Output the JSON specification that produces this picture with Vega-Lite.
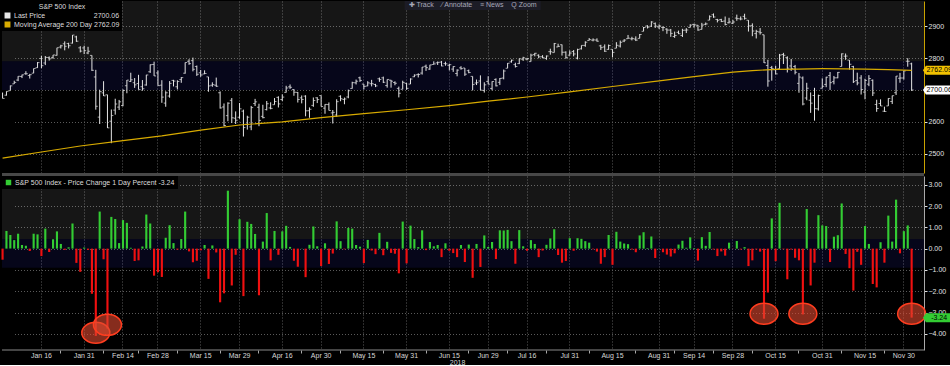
{
"$schema": "https://vega.github.io/schema/vega-lite/v6.json",
"background": "#000000",
"padding": 0,
"spacing": 3,
"bounds": "flush",
"config": {"view": {"stroke": null}, "font": "Liberation Sans", "axis": {"labelOverlap": false}},
"resolve": {"scale": {"x": "shared", "y": "independent", "color": "independent"}, "legend": {"color": "independent"}},
"datasets": {
"px": [
{"d":"2017-12-29","o":2689.2,"h":2692.1,"l":2673.6,"c":2673.6,"p":-0.52},
{"d":"2018-01-02","o":2683.7,"h":2695.9,"l":2682.4,"c":2695.8,"p":0.83},
{"d":"2018-01-03","o":2697.9,"h":2714.4,"l":2697.8,"c":2713.1,"p":0.64},
{"d":"2018-01-04","o":2719.3,"h":2729.3,"l":2719.1,"c":2724.0,"p":0.40},
{"d":"2018-01-05","o":2731.3,"h":2743.5,"l":2727.9,"c":2743.2,"p":0.70},
{"d":"2018-01-08","o":2742.7,"h":2748.5,"l":2737.6,"c":2747.7,"p":0.17},
{"d":"2018-01-09","o":2751.2,"h":2759.1,"l":2747.9,"c":2751.3,"p":0.13},
{"d":"2018-01-10","o":2745.6,"h":2750.8,"l":2736.1,"c":2748.2,"p":-0.11},
{"d":"2018-01-11","o":2753.0,"h":2767.6,"l":2752.8,"c":2767.6,"p":0.70},
{"d":"2018-01-12","o":2770.2,"h":2787.9,"l":2769.6,"c":2786.2,"p":0.67},
{"d":"2018-01-16","o":2799.0,"h":2807.5,"l":2768.6,"c":2776.4,"p":-0.35},
{"d":"2018-01-17","o":2785.0,"h":2807.0,"l":2778.4,"c":2802.6,"p":0.94},
{"d":"2018-01-18","o":2802.4,"h":2805.8,"l":2792.6,"c":2798.0,"p":-0.16},
{"d":"2018-01-19","o":2802.6,"h":2810.3,"l":2798.1,"c":2810.3,"p":0.44},
{"d":"2018-01-22","o":2809.2,"h":2833.0,"l":2808.1,"c":2833.0,"p":0.81},
{"d":"2018-01-23","o":2835.1,"h":2842.2,"l":2830.6,"c":2839.1,"p":0.22},
{"d":"2018-01-24","o":2845.4,"h":2853.0,"l":2824.8,"c":2837.5,"p":-0.06},
{"d":"2018-01-25","o":2846.2,"h":2848.6,"l":2830.9,"c":2839.3,"p":0.06},
{"d":"2018-01-26","o":2847.5,"h":2872.9,"l":2846.2,"c":2872.9,"p":1.18},
{"d":"2018-01-29","o":2867.2,"h":2870.6,"l":2851.5,"c":2853.5,"p":-0.67},
{"d":"2018-01-30","o":2832.7,"h":2837.8,"l":2818.3,"c":2822.4,"p":-1.09},
{"d":"2018-01-31","o":2832.4,"h":2839.3,"l":2813.0,"c":2823.8,"p":0.05},
{"d":"2018-02-01","o":2816.5,"h":2836.0,"l":2812.7,"c":2822.0,"p":-0.06},
{"d":"2018-02-02","o":2808.9,"h":2808.9,"l":2760.0,"c":2762.1,"p":-2.12},
{"d":"2018-02-05","o":2741.1,"h":2763.4,"l":2638.2,"c":2648.9,"p":-4.10},
{"d":"2018-02-06","o":2614.8,"h":2701.0,"l":2593.1,"c":2695.1,"p":1.74},
{"d":"2018-02-07","o":2691.0,"h":2727.7,"l":2681.3,"c":2681.7,"p":-0.50},
{"d":"2018-02-08","o":2685.0,"h":2685.3,"l":2580.6,"c":2581.0,"p":-3.75},
{"d":"2018-02-09","o":2601.8,"h":2638.7,"l":2532.7,"c":2619.6,"p":1.49},
{"d":"2018-02-12","o":2636.8,"h":2672.6,"l":2622.5,"c":2656.0,"p":1.39},
{"d":"2018-02-13","o":2646.3,"h":2668.8,"l":2637.1,"c":2662.9,"p":0.26},
{"d":"2018-02-14","o":2651.2,"h":2702.1,"l":2648.9,"c":2698.6,"p":1.34},
{"d":"2018-02-15","o":2713.5,"h":2731.5,"l":2689.8,"c":2731.2,"p":1.21},
{"d":"2018-02-16","o":2727.1,"h":2754.4,"l":2725.1,"c":2732.2,"p":0.04},
{"d":"2018-02-20","o":2723.0,"h":2737.6,"l":2706.8,"c":2716.3,"p":-0.58},
{"d":"2018-02-21","o":2720.5,"h":2747.8,"l":2701.3,"c":2701.3,"p":-0.55},
{"d":"2018-02-22","o":2710.4,"h":2731.3,"l":2697.8,"c":2704.0,"p":0.10},
{"d":"2018-02-23","o":2715.8,"h":2747.8,"l":2713.7,"c":2747.3,"p":1.60},
{"d":"2018-02-26","o":2757.4,"h":2780.6,"l":2753.8,"c":2779.6,"p":1.18},
{"d":"2018-02-27","o":2780.5,"h":2789.2,"l":2744.2,"c":2744.3,"p":-1.27},
{"d":"2018-02-28","o":2753.8,"h":2761.5,"l":2713.5,"c":2713.8,"p":-1.11},
{"d":"2018-03-01","o":2715.2,"h":2730.9,"l":2659.7,"c":2677.7,"p":-1.33},
{"d":"2018-03-02","o":2658.9,"h":2696.3,"l":2647.3,"c":2691.3,"p":0.51},
{"d":"2018-03-05","o":2681.1,"h":2728.1,"l":2675.8,"c":2720.9,"p":1.10},
{"d":"2018-03-06","o":2730.2,"h":2732.1,"l":2711.3,"c":2728.1,"p":0.26},
{"d":"2018-03-07","o":2710.2,"h":2730.6,"l":2701.7,"c":2726.8,"p":-0.05},
{"d":"2018-03-08","o":2732.8,"h":2740.5,"l":2722.7,"c":2739.0,"p":0.45},
{"d":"2018-03-09","o":2752.9,"h":2786.6,"l":2751.5,"c":2786.6,"p":1.74},
{"d":"2018-03-12","o":2790.5,"h":2797.0,"l":2779.3,"c":2783.0,"p":-0.13},
{"d":"2018-03-13","o":2792.3,"h":2801.9,"l":2758.7,"c":2765.3,"p":-0.64},
{"d":"2018-03-14","o":2774.1,"h":2777.1,"l":2744.4,"c":2749.5,"p":-0.57},
{"d":"2018-03-15","o":2754.3,"h":2763.0,"l":2741.5,"c":2747.3,"p":-0.08},
{"d":"2018-03-16","o":2750.6,"h":2761.9,"l":2750.0,"c":2752.0,"p":0.17},
{"d":"2018-03-19","o":2741.4,"h":2741.4,"l":2694.6,"c":2712.9,"p":-1.42},
{"d":"2018-03-20","o":2715.1,"h":2724.2,"l":2710.1,"c":2716.9,"p":0.15},
{"d":"2018-03-21","o":2715.0,"h":2739.1,"l":2709.8,"c":2711.9,"p":-0.18},
{"d":"2018-03-22","o":2691.4,"h":2695.7,"l":2641.6,"c":2643.7,"p":-2.52},
{"d":"2018-03-23","o":2646.7,"h":2657.7,"l":2585.9,"c":2588.3,"p":-2.10},
{"d":"2018-03-26","o":2619.4,"h":2661.4,"l":2601.8,"c":2658.6,"p":2.72},
{"d":"2018-03-27","o":2667.6,"h":2674.8,"l":2596.1,"c":2612.6,"p":-1.73},
{"d":"2018-03-28","o":2611.3,"h":2632.7,"l":2593.1,"c":2605.0,"p":-0.29},
{"d":"2018-03-29","o":2614.4,"h":2659.1,"l":2609.7,"c":2640.9,"p":1.38},
{"d":"2018-04-02","o":2633.5,"h":2638.3,"l":2553.8,"c":2581.9,"p":-2.23},
{"d":"2018-04-03","o":2592.2,"h":2619.1,"l":2575.5,"c":2614.5,"p":1.26},
{"d":"2018-04-04","o":2584.0,"h":2649.9,"l":2573.6,"c":2644.7,"p":1.16},
{"d":"2018-04-05","o":2657.4,"h":2672.1,"l":2649.6,"c":2662.8,"p":0.69},
{"d":"2018-04-06","o":2645.8,"h":2656.9,"l":2586.3,"c":2604.5,"p":-2.19},
{"d":"2018-04-09","o":2617.2,"h":2653.6,"l":2610.8,"c":2613.2,"p":0.33},
{"d":"2018-04-10","o":2638.4,"h":2665.5,"l":2635.8,"c":2656.9,"p":1.67},
{"d":"2018-04-11","o":2643.6,"h":2661.4,"l":2639.3,"c":2642.2,"p":-0.55},
{"d":"2018-04-12","o":2653.8,"h":2674.7,"l":2653.8,"c":2664.0,"p":0.83},
{"d":"2018-04-13","o":2676.9,"h":2680.3,"l":2645.1,"c":2656.3,"p":-0.29},
{"d":"2018-04-16","o":2670.1,"h":2686.5,"l":2665.2,"c":2677.8,"p":0.81},
{"d":"2018-04-17","o":2692.7,"h":2713.3,"l":2692.1,"c":2706.4,"p":1.07},
{"d":"2018-04-18","o":2710.1,"h":2717.5,"l":2703.6,"c":2708.6,"p":0.08},
{"d":"2018-04-19","o":2701.2,"h":2702.8,"l":2681.9,"c":2693.1,"p":-0.57},
{"d":"2018-04-20","o":2692.6,"h":2693.9,"l":2660.6,"c":2670.1,"p":-0.85},
{"d":"2018-04-23","o":2675.4,"h":2682.9,"l":2658.0,"c":2670.3,"p":0.01},
{"d":"2018-04-24","o":2680.8,"h":2683.6,"l":2617.3,"c":2634.6,"p":-1.34},
{"d":"2018-04-25","o":2634.9,"h":2645.3,"l":2612.7,"c":2639.4,"p":0.18},
{"d":"2018-04-26","o":2651.7,"h":2676.5,"l":2647.2,"c":2666.9,"p":1.04},
{"d":"2018-04-27","o":2675.5,"h":2677.4,"l":2659.0,"c":2669.9,"p":0.11},
{"d":"2018-04-30","o":2682.5,"h":2682.9,"l":2648.0,"c":2648.1,"p":-0.82},
{"d":"2018-05-01","o":2643.0,"h":2655.3,"l":2625.4,"c":2654.8,"p":0.25},
{"d":"2018-05-02","o":2654.2,"h":2660.9,"l":2635.7,"c":2635.7,"p":-0.72},
{"d":"2018-05-03","o":2628.1,"h":2637.1,"l":2594.6,"c":2629.7,"p":-0.23},
{"d":"2018-05-04","o":2621.5,"h":2670.9,"l":2615.3,"c":2663.4,"p":1.28},
{"d":"2018-05-07","o":2680.3,"h":2683.4,"l":2664.7,"c":2672.6,"p":0.35},
{"d":"2018-05-08","o":2670.3,"h":2676.3,"l":2655.2,"c":2671.9,"p":-0.03},
{"d":"2018-05-09","o":2678.1,"h":2701.3,"l":2674.1,"c":2697.8,"p":0.97},
{"d":"2018-05-10","o":2705.0,"h":2726.1,"l":2704.5,"c":2723.1,"p":0.94},
{"d":"2018-05-11","o":2722.7,"h":2732.9,"l":2717.5,"c":2727.7,"p":0.17},
{"d":"2018-05-14","o":2738.5,"h":2742.1,"l":2725.5,"c":2730.1,"p":0.09},
{"d":"2018-05-15","o":2718.6,"h":2718.6,"l":2701.9,"c":2711.5,"p":-0.68},
{"d":"2018-05-16","o":2712.6,"h":2727.8,"l":2712.2,"c":2722.5,"p":0.41},
{"d":"2018-05-17","o":2719.7,"h":2732.0,"l":2711.4,"c":2720.1,"p":-0.09},
{"d":"2018-05-18","o":2717.4,"h":2719.5,"l":2709.2,"c":2713.0,"p":-0.26},
{"d":"2018-05-21","o":2735.4,"h":2739.2,"l":2725.7,"c":2733.0,"p":0.74},
{"d":"2018-05-22","o":2738.3,"h":2742.2,"l":2721.9,"c":2724.4,"p":-0.31},
{"d":"2018-05-23","o":2714.0,"h":2733.3,"l":2707.4,"c":2733.3,"p":0.32},
{"d":"2018-05-24","o":2730.9,"h":2732.0,"l":2707.4,"c":2727.8,"p":-0.20},
{"d":"2018-05-25","o":2723.6,"h":2727.4,"l":2715.0,"c":2721.3,"p":-0.24},
{"d":"2018-05-29","o":2705.1,"h":2710.7,"l":2676.8,"c":2689.9,"p":-1.16},
{"d":"2018-05-30","o":2702.4,"h":2729.3,"l":2702.4,"c":2724.0,"p":1.27},
{"d":"2018-05-31","o":2721.0,"h":2722.5,"l":2700.7,"c":2705.3,"p":-0.69},
{"d":"2018-06-01","o":2718.7,"h":2736.9,"l":2718.7,"c":2734.6,"p":1.08},
{"d":"2018-06-04","o":2741.7,"h":2749.2,"l":2740.5,"c":2746.9,"p":0.45},
{"d":"2018-06-05","o":2748.5,"h":2752.6,"l":2739.5,"c":2748.8,"p":0.07},
{"d":"2018-06-06","o":2753.3,"h":2772.4,"l":2748.5,"c":2772.4,"p":0.86},
{"d":"2018-06-07","o":2774.8,"h":2779.9,"l":2760.2,"c":2770.4,"p":-0.07},
{"d":"2018-06-08","o":2765.8,"h":2779.4,"l":2763.6,"c":2779.0,"p":0.31},
{"d":"2018-06-11","o":2780.2,"h":2790.2,"l":2780.2,"c":2782.0,"p":0.11},
{"d":"2018-06-12","o":2785.6,"h":2789.8,"l":2778.8,"c":2786.9,"p":0.17},
{"d":"2018-06-13","o":2787.9,"h":2791.5,"l":2774.7,"c":2775.6,"p":-0.40},
{"d":"2018-06-14","o":2783.2,"h":2789.1,"l":2776.5,"c":2782.5,"p":0.25},
{"d":"2018-06-15","o":2777.8,"h":2782.8,"l":2761.7,"c":2779.7,"p":-0.10},
{"d":"2018-06-18","o":2765.8,"h":2775.0,"l":2757.1,"c":2773.8,"p":-0.21},
{"d":"2018-06-19","o":2752.0,"h":2765.1,"l":2743.2,"c":2762.6,"p":-0.40},
{"d":"2018-06-20","o":2769.7,"h":2774.9,"l":2763.9,"c":2767.3,"p":0.17},
{"d":"2018-06-21","o":2769.3,"h":2769.3,"l":2744.4,"c":2749.8,"p":-0.63},
{"d":"2018-06-22","o":2760.8,"h":2764.2,"l":2752.7,"c":2754.9,"p":0.19},
{"d":"2018-06-25","o":2742.9,"h":2742.9,"l":2698.7,"c":2717.1,"p":-1.37},
{"d":"2018-06-26","o":2722.1,"h":2732.9,"l":2715.6,"c":2723.1,"p":0.22},
{"d":"2018-06-27","o":2728.5,"h":2746.1,"l":2699.4,"c":2699.6,"p":-0.86},
{"d":"2018-06-28","o":2698.7,"h":2724.3,"l":2692.0,"c":2716.3,"p":0.62},
{"d":"2018-06-29","o":2727.1,"h":2743.3,"l":2718.0,"c":2718.4,"p":0.08},
{"d":"2018-07-02","o":2705.0,"h":2727.3,"l":2699.0,"c":2726.7,"p":0.31},
{"d":"2018-07-03","o":2733.3,"h":2736.6,"l":2711.2,"c":2713.2,"p":-0.49},
{"d":"2018-07-05","o":2724.2,"h":2737.8,"l":2716.0,"c":2736.6,"p":0.86},
{"d":"2018-07-06","o":2737.7,"h":2764.4,"l":2733.5,"c":2759.8,"p":0.85},
{"d":"2018-07-09","o":2768.5,"h":2784.7,"l":2768.5,"c":2784.2,"p":0.88},
{"d":"2018-07-10","o":2788.6,"h":2795.6,"l":2786.2,"c":2793.8,"p":0.35},
{"d":"2018-07-11","o":2779.8,"h":2785.9,"l":2770.8,"c":2774.0,"p":-0.71},
{"d":"2018-07-12","o":2783.1,"h":2799.2,"l":2781.5,"c":2798.3,"p":0.87},
{"d":"2018-07-13","o":2796.9,"h":2804.5,"l":2791.7,"c":2801.3,"p":0.11},
{"d":"2018-07-16","o":2797.4,"h":2801.2,"l":2793.4,"c":2798.4,"p":-0.10},
{"d":"2018-07-17","o":2789.3,"h":2814.2,"l":2789.2,"c":2809.6,"p":0.40},
{"d":"2018-07-18","o":2811.4,"h":2816.8,"l":2805.9,"c":2815.6,"p":0.22},
{"d":"2018-07-19","o":2809.4,"h":2812.1,"l":2799.8,"c":2804.5,"p":-0.40},
{"d":"2018-07-20","o":2804.6,"h":2809.7,"l":2800.0,"c":2801.8,"p":-0.09},
{"d":"2018-07-23","o":2799.2,"h":2808.6,"l":2795.1,"c":2807.0,"p":0.18},
{"d":"2018-07-24","o":2820.7,"h":2830.0,"l":2811.1,"c":2820.4,"p":0.48},
{"d":"2018-07-25","o":2817.7,"h":2848.0,"l":2817.7,"c":2846.1,"p":0.91},
{"d":"2018-07-26","o":2835.5,"h":2845.6,"l":2835.3,"c":2837.4,"p":-0.30},
{"d":"2018-07-27","o":2842.4,"h":2843.2,"l":2808.3,"c":2818.8,"p":-0.66},
{"d":"2018-07-30","o":2819.0,"h":2821.7,"l":2798.1,"c":2802.6,"p":-0.58},
{"d":"2018-07-31","o":2809.7,"h":2824.5,"l":2808.1,"c":2816.3,"p":0.49},
{"d":"2018-08-01","o":2821.2,"h":2825.8,"l":2805.9,"c":2813.4,"p":-0.10},
{"d":"2018-08-02","o":2800.5,"h":2829.9,"l":2796.3,"c":2827.2,"p":0.49},
{"d":"2018-08-03","o":2829.6,"h":2840.4,"l":2827.4,"c":2840.4,"p":0.46},
{"d":"2018-08-06","o":2840.3,"h":2853.3,"l":2836.0,"c":2850.4,"p":0.35},
{"d":"2018-08-07","o":2855.9,"h":2863.4,"l":2855.9,"c":2858.5,"p":0.28},
{"d":"2018-08-08","o":2856.8,"h":2862.4,"l":2853.1,"c":2857.7,"p":-0.03},
{"d":"2018-08-09","o":2857.2,"h":2862.5,"l":2852.0,"c":2853.6,"p":-0.14},
{"d":"2018-08-10","o":2838.9,"h":2842.2,"l":2825.8,"c":2833.3,"p":-0.71},
{"d":"2018-08-13","o":2835.5,"h":2843.4,"l":2819.9,"c":2821.9,"p":-0.40},
{"d":"2018-08-14","o":2827.9,"h":2843.1,"l":2826.6,"c":2840.0,"p":0.64},
{"d":"2018-08-15","o":2828.0,"h":2828.0,"l":2802.5,"c":2818.4,"p":-0.76},
{"d":"2018-08-16","o":2831.4,"h":2850.5,"l":2831.4,"c":2840.7,"p":0.79},
{"d":"2018-08-17","o":2838.3,"h":2855.6,"l":2833.7,"c":2850.1,"p":0.33},
{"d":"2018-08-20","o":2853.9,"h":2859.8,"l":2850.6,"c":2857.1,"p":0.24},
{"d":"2018-08-21","o":2861.5,"h":2873.2,"l":2861.3,"c":2863.0,"p":0.21},
{"d":"2018-08-22","o":2861.0,"h":2867.5,"l":2856.1,"c":2861.8,"p":-0.04},
{"d":"2018-08-23","o":2860.3,"h":2868.8,"l":2854.0,"c":2857.0,"p":-0.17},
{"d":"2018-08-24","o":2862.4,"h":2876.2,"l":2862.4,"c":2874.7,"p":0.62},
{"d":"2018-08-27","o":2884.7,"h":2898.3,"l":2884.7,"c":2896.7,"p":0.77},
{"d":"2018-08-28","o":2901.5,"h":2903.8,"l":2893.5,"c":2897.5,"p":0.03},
{"d":"2018-08-29","o":2900.6,"h":2916.5,"l":2898.4,"c":2914.0,"p":0.57},
{"d":"2018-08-30","o":2908.9,"h":2912.5,"l":2895.2,"c":2901.1,"p":-0.44},
{"d":"2018-08-31","o":2898.4,"h":2906.3,"l":2891.7,"c":2901.5,"p":0.01},
{"d":"2018-09-04","o":2897.0,"h":2900.2,"l":2885.1,"c":2896.7,"p":-0.17},
{"d":"2018-09-05","o":2891.6,"h":2894.2,"l":2876.9,"c":2888.6,"p":-0.28},
{"d":"2018-09-06","o":2888.6,"h":2892.1,"l":2867.3,"c":2878.1,"p":-0.37},
{"d":"2018-09-07","o":2868.3,"h":2883.8,"l":2864.1,"c":2871.7,"p":-0.22},
{"d":"2018-09-10","o":2881.4,"h":2886.9,"l":2875.9,"c":2877.1,"p":0.19},
{"d":"2018-09-11","o":2871.6,"h":2892.5,"l":2866.8,"c":2887.9,"p":0.37},
{"d":"2018-09-12","o":2888.3,"h":2894.7,"l":2879.2,"c":2888.9,"p":0.04},
{"d":"2018-09-13","o":2896.9,"h":2906.8,"l":2896.4,"c":2904.2,"p":0.53},
{"d":"2018-09-14","o":2906.4,"h":2908.3,"l":2895.8,"c":2905.0,"p":0.03},
{"d":"2018-09-17","o":2903.8,"h":2904.7,"l":2886.2,"c":2888.8,"p":-0.56},
{"d":"2018-09-18","o":2890.7,"h":2911.2,"l":2890.4,"c":2904.3,"p":0.54},
{"d":"2018-09-19","o":2906.6,"h":2912.4,"l":2903.8,"c":2908.0,"p":0.13},
{"d":"2018-09-20","o":2919.7,"h":2934.8,"l":2919.7,"c":2930.8,"p":0.78},
{"d":"2018-09-21","o":2936.8,"h":2940.9,"l":2927.1,"c":2929.7,"p":-0.04},
{"d":"2018-09-24","o":2921.8,"h":2923.8,"l":2912.6,"c":2919.4,"p":-0.35},
{"d":"2018-09-25","o":2921.8,"h":2924.0,"l":2913.7,"c":2915.6,"p":-0.13},
{"d":"2018-09-26","o":2917.0,"h":2931.2,"l":2903.3,"c":2906.0,"p":-0.33},
{"d":"2018-09-27","o":2911.7,"h":2927.2,"l":2909.3,"c":2914.0,"p":0.28},
{"d":"2018-09-28","o":2910.0,"h":2920.5,"l":2907.5,"c":2914.0,"p":-0.01},
{"d":"2018-10-01","o":2926.3,"h":2937.1,"l":2917.9,"c":2924.6,"p":0.36},
{"d":"2018-10-02","o":2923.8,"h":2931.4,"l":2919.4,"c":2923.4,"p":-0.04},
{"d":"2018-10-03","o":2931.7,"h":2939.9,"l":2921.4,"c":2925.5,"p":0.07},
{"d":"2018-10-04","o":2919.4,"h":2919.8,"l":2883.9,"c":2901.6,"p":-0.82},
{"d":"2018-10-05","o":2902.5,"h":2909.6,"l":2869.3,"c":2885.6,"p":-0.55},
{"d":"2018-10-08","o":2877.5,"h":2889.5,"l":2862.1,"c":2884.4,"p":-0.04},
{"d":"2018-10-09","o":2882.5,"h":2894.8,"l":2874.3,"c":2880.3,"p":-0.14},
{"d":"2018-10-10","o":2873.9,"h":2874.0,"l":2784.9,"c":2785.7,"p":-3.29},
{"d":"2018-10-11","o":2776.9,"h":2795.1,"l":2710.5,"c":2728.4,"p":-2.06},
{"d":"2018-10-12","o":2770.5,"h":2775.8,"l":2729.4,"c":2767.1,"p":1.42},
{"d":"2018-10-15","o":2763.8,"h":2776.0,"l":2749.0,"c":2750.8,"p":-0.59},
{"d":"2018-10-16","o":2767.1,"h":2813.5,"l":2766.9,"c":2809.9,"p":2.15},
{"d":"2018-10-17","o":2811.7,"h":2816.9,"l":2781.8,"c":2809.2,"p":-0.03},
{"d":"2018-10-18","o":2802.0,"h":2806.0,"l":2755.2,"c":2768.8,"p":-1.44},
{"d":"2018-10-19","o":2775.7,"h":2797.8,"l":2760.3,"c":2767.8,"p":-0.04},
{"d":"2018-10-22","o":2773.9,"h":2778.9,"l":2749.2,"c":2755.9,"p":-0.43},
{"d":"2018-10-23","o":2721.0,"h":2753.6,"l":2691.4,"c":2740.7,"p":-0.55},
{"d":"2018-10-24","o":2737.9,"h":2742.6,"l":2651.9,"c":2656.1,"p":-3.09},
{"d":"2018-10-25","o":2674.9,"h":2722.7,"l":2667.8,"c":2705.6,"p":1.86},
{"d":"2018-10-26","o":2667.9,"h":2692.4,"l":2628.2,"c":2658.7,"p":-1.73},
{"d":"2018-10-29","o":2682.7,"h":2706.9,"l":2603.5,"c":2641.3,"p":-0.66},
{"d":"2018-10-30","o":2640.7,"h":2685.4,"l":2635.3,"c":2682.6,"p":1.57},
{"d":"2018-10-31","o":2705.6,"h":2736.7,"l":2705.6,"c":2711.7,"p":1.09},
{"d":"2018-11-01","o":2717.6,"h":2741.7,"l":2708.9,"c":2740.4,"p":1.06},
{"d":"2018-11-02","o":2745.5,"h":2756.6,"l":2700.4,"c":2723.1,"p":-0.63},
{"d":"2018-11-05","o":2726.4,"h":2744.3,"l":2717.9,"c":2738.3,"p":0.56},
{"d":"2018-11-06","o":2738.4,"h":2756.8,"l":2737.1,"c":2755.5,"p":0.63},
{"d":"2018-11-07","o":2774.1,"h":2815.2,"l":2774.1,"c":2813.9,"p":2.12},
{"d":"2018-11-08","o":2806.4,"h":2814.8,"l":2795.0,"c":2806.8,"p":-0.25},
{"d":"2018-11-09","o":2794.1,"h":2794.1,"l":2764.2,"c":2781.0,"p":-0.92},
{"d":"2018-11-12","o":2773.9,"h":2776.0,"l":2722.0,"c":2726.2,"p":-1.97},
{"d":"2018-11-13","o":2730.1,"h":2754.6,"l":2715.0,"c":2722.2,"p":-0.15},
{"d":"2018-11-14","o":2737.9,"h":2746.8,"l":2685.8,"c":2701.6,"p":-0.76},
{"d":"2018-11-15","o":2693.5,"h":2735.4,"l":2670.8,"c":2730.2,"p":1.06},
{"d":"2018-11-16","o":2718.5,"h":2746.8,"l":2712.2,"c":2736.3,"p":0.22},
{"d":"2018-11-19","o":2730.7,"h":2733.2,"l":2681.1,"c":2690.7,"p":-1.66},
{"d":"2018-11-20","o":2654.6,"h":2669.4,"l":2631.5,"c":2641.9,"p":-1.82},
{"d":"2018-11-21","o":2657.7,"h":2670.7,"l":2649.8,"c":2649.9,"p":0.30},
{"d":"2018-11-23","o":2633.4,"h":2647.6,"l":2631.1,"c":2632.6,"p":-0.66},
{"d":"2018-11-26","o":2650.0,"h":2674.4,"l":2650.0,"c":2673.5,"p":1.55},
{"d":"2018-11-27","o":2663.8,"h":2682.5,"l":2655.9,"c":2682.2,"p":0.33},
{"d":"2018-11-28","o":2691.5,"h":2744.0,"l":2684.4,"c":2743.8,"p":2.30},
{"d":"2018-11-29","o":2737.0,"h":2753.8,"l":2722.9,"c":2737.8,"p":-0.22},
{"d":"2018-11-30","o":2737.8,"h":2760.9,"l":2732.8,"c":2760.2,"p":0.82},
{"d":"2018-12-03","o":2790.5,"h":2800.2,"l":2773.4,"c":2790.4,"p":1.09},
{"d":"2018-12-04","o":2782.4,"h":2785.9,"l":2697.2,"c":2700.1,"p":-3.24}
],
"ma": [
{"d":"2017-12-29","v":2486},{"d":"2018-01-16","v":2505},{"d":"2018-01-30","v":2524},{"d":"2018-02-14","v":2541},
{"d":"2018-03-01","v":2556},{"d":"2018-03-15","v":2574},{"d":"2018-03-29","v":2590},{"d":"2018-04-16","v":2600},
{"d":"2018-04-30","v":2613},{"d":"2018-05-15","v":2626},{"d":"2018-05-31","v":2638},{"d":"2018-06-15","v":2651},
{"d":"2018-06-29","v":2665},{"d":"2018-07-16","v":2678},{"d":"2018-07-31","v":2694},{"d":"2018-08-15","v":2711},
{"d":"2018-08-31","v":2729},{"d":"2018-09-14","v":2742},{"d":"2018-09-28","v":2756},{"d":"2018-10-05","v":2761},
{"d":"2018-10-15","v":2765},{"d":"2018-10-23","v":2766},{"d":"2018-10-31","v":2767},{"d":"2018-11-15","v":2766},
{"d":"2018-11-26","v":2764},{"d":"2018-12-04","v":2762.09}
],
"circ": [
{"d":"2018-02-05","v":-3.95},{"d":"2018-02-08","v":-3.58},{"d":"2018-10-10","v":-3.06},{"d":"2018-10-24","v":-3.06},{"d":"2018-12-04","v":-3.06}
]
},
"vconcat": [
{
"width": 922, "height": 172,
"data": {"name": "px"},
"layer": [
{"data": {"values": [{}]}, "mark": {"type": "rect", "color": "#ffffff", "opacity": 0.085},
 "encoding": {"y": {"datum": 2790.37, "type": "quantitative", "scale": {"domain": [2439, 2980], "nice": false, "zero": false},
   "axis": {"orient": "right", "values": [2500, 2600, 2700, 2800, 2900], "tickCount": 5, "labelExpr": "datum.value == 2700 ? '' : datum.label", "format": "d", "title": null, "labelOverlap": false,
    "grid": true, "gridColor": "#5a5a5a", "gridDash": [1, 2], "domainColor": "#c9a200", "tickColor": "#dddddd", "tickSize": 3, "labelPadding": 1, "labelColor": "#e0e0e0", "labelFontSize": 7}},
  "y2": {"datum": 2980}}},
{"data": {"values": [{}]}, "mark": {"type": "rect", "color": "#3c3cff", "opacity": 0.1},
 "encoding": {"y": {"datum": 2700.06, "type": "quantitative"}, "y2": {"datum": 2790.37}}},
{"mark": {"type": "rule", "strokeWidth": 1},
 "encoding": {
  "x": {"field": "d", "type": "ordinal", "scale": {"range": [-0.5, 910.7], "paddingInner": 0.45, "paddingOuter": 0},
   "axis": {"values": ["2018-01-16","2018-01-31","2018-02-14","2018-02-28","2018-03-15","2018-03-29","2018-04-16","2018-04-30","2018-05-15","2018-05-31","2018-06-15","2018-06-29","2018-07-16","2018-07-31","2018-08-15","2018-08-31","2018-09-14","2018-09-28","2018-10-15","2018-10-31","2018-11-15","2018-11-30"],
    "labels": false, "ticks": false, "domain": false, "grid": true, "gridColor": "#5a5a5a", "gridDash": [1, 2], "title": null, "bandPosition": 0.5}},
  "y": {"field": "l", "type": "quantitative"},
  "y2": {"field": "h"},
  "color": {"datum": "Last Price", "scale": {"domain": ["Last Price", "Moving Average 200 Day"], "range": ["#e6e6e6", "#d8ab00"]},
   "legend": {"title": "S&P 500 Index", "orient": "top-left", "offset": 0, "padding": 2, "fillColor": "#000000",
    "titleAnchor": "middle", "titleFontSize": 7, "titleFontWeight": "normal", "titleColor": "#dcdcdc", "titlePadding": 1,
    "labelFontSize": 7, "labelColor": "#dcdcdc", "labelLimit": 300, "labelOffset": 3, "rowPadding": 0, "clipHeight": 9,
    "symbolType": "square", "symbolSize": 2, "symbolStrokeWidth": 4.5,
    "labelExpr": "datum.label == 'Last Price' ? 'Last Price\u00a0\u00a0\u00a0\u00a0\u00a0\u00a0\u00a0\u00a0\u00a0\u00a0\u00a0\u00a0\u00a0\u00a0\u00a0\u00a0\u00a0\u00a0\u00a0\u00a0\u00a0\u00a0\u00a0\u00a0\u00a02700.06' : 'Moving Average 200 Day 2762.09'"}}
 }},
{"mark": {"type": "tick", "orient": "horizontal", "size": 2, "thickness": 1, "xOffset": -1, "color": "#e6e6e6", "clip": true},
 "encoding": {"x": {"field": "d", "type": "ordinal"}, "y": {"field": "o", "type": "quantitative"}}},
{"mark": {"type": "tick", "orient": "horizontal", "size": 2, "thickness": 1, "xOffset": 1, "color": "#e6e6e6", "clip": true},
 "encoding": {"x": {"field": "d", "type": "ordinal"}, "y": {"field": "c", "type": "quantitative"}}},
{"data": {"name": "ma"}, "mark": {"type": "line", "strokeWidth": 1.2},
 "encoding": {"x": {"field": "d", "type": "ordinal"}, "y": {"field": "v", "type": "quantitative"}, "color": {"datum": "Moving Average 200 Day"}}},
{"data": {"values": [{}]}, "mark": {"type": "rule", "color": "#484848", "strokeWidth": 3, "yOffset": 1.5},
 "encoding": {"y": {"datum": 2439, "type": "quantitative"}}},
{"data": {"values": [{"v": 2762.09, "t": "2762.09", "k": "ma"}, {"v": 2700.06, "t": "2700.06", "k": "lp"}]},
 "mark": {"type": "point", "shape": "M-1,0L-0.8,-0.3L1,-0.3L1,0.3L-0.8,0.3Z", "size": 900, "filled": true, "opacity": 1, "strokeWidth": 0, "xOffset": 26.3},
 "encoding": {"x": {"datum": "2018-12-04", "type": "ordinal"}, "y": {"field": "v", "type": "quantitative"},
  "fill": {"condition": {"test": "datum.k == 'ma'", "value": "#f2c200"}, "value": "#ffffff"}}},
{"data": {"values": [{"v": 2762.09, "t": "2762.09"}, {"v": 2700.06, "t": "2700.06"}]},
 "mark": {"type": "text", "fontSize": 7, "color": "#000000", "align": "center", "baseline": "middle", "xOffset": 27.5},
 "encoding": {"x": {"datum": "2018-12-04", "type": "ordinal"}, "y": {"field": "v", "type": "quantitative"}, "text": {"field": "t"}}},
{"data": {"values": [{"v": 2966}]},
 "mark": {"type": "point", "shape": "M-1,-0.066L1,-0.066L1,0.066L-1,0.066Z", "size": 18496, "filled": true, "opacity": 1, "color": "#1c1c26", "strokeWidth": 0},
 "encoding": {"x": {"datum": "2018-06-25", "type": "ordinal"}, "y": {"field": "v", "type": "quantitative"}}},
{"data": {"values": [{"v": 2966, "t": "\u271a Track\u00a0\u00a0\u00a0\u00a0\u2044 Annotate\u00a0\u00a0\u00a0\u00a0\u2261 News\u00a0\u00a0\u00a0\u00a0Q Zoom"}]},
 "mark": {"type": "text", "fontSize": 7, "color": "#a8a8b8", "align": "center", "baseline": "middle"},
 "encoding": {"x": {"datum": "2018-06-25", "type": "ordinal"}, "y": {"field": "v", "type": "quantitative"}, "text": {"field": "t"}}}
]
},
{
"width": 922, "height": 174,
"data": {"name": "px"},
"layer": [
{"data": {"values": [{}]}, "mark": {"type": "rect", "color": "#ffffff", "opacity": 0.085},
 "encoding": {"y": {"datum": 0.45, "type": "quantitative", "scale": {"domain": [-4.76, 3.41], "nice": false, "zero": false},
   "axis": {"orient": "right", "values": [-4, -3, -2, -1, 0, 1, 2, 3], "tickCount": 8, "format": ".2f", "title": null, "labelOverlap": false,
    "grid": true, "gridColor": "#5a5a5a", "gridDash": [1, 2], "domainColor": "#aaaaaa", "tickColor": "#dddddd", "tickSize": 3, "labelPadding": 1, "labelColor": "#e0e0e0", "labelFontSize": 7}},
  "y2": {"datum": 3.41}}},
{"data": {"values": [{}]}, "mark": {"type": "rect", "color": "#3c3cff", "opacity": 0.1},
 "encoding": {"y": {"datum": -0.9, "type": "quantitative"}, "y2": {"datum": 0.45}}},
{"transform": [{"filter": "datum.p >= 0"}],
 "mark": {"type": "bar"},
 "encoding": {
  "x": {"field": "d", "type": "ordinal", "scale": {"range": [-0.5, 910.7], "paddingInner": 0.45, "paddingOuter": 0},
   "axis": {"values": ["2018-01-16","2018-01-23","2018-01-31","2018-02-07","2018-02-14","2018-02-21","2018-02-28","2018-03-07","2018-03-15","2018-03-22","2018-03-29","2018-04-06","2018-04-16","2018-04-23","2018-04-30","2018-05-07","2018-05-15","2018-05-22","2018-05-31","2018-06-07","2018-06-15","2018-06-22","2018-06-29","2018-07-09","2018-07-16","2018-07-23","2018-07-31","2018-08-07","2018-08-15","2018-08-23","2018-08-31","2018-09-07","2018-09-14","2018-09-21","2018-09-28","2018-10-05","2018-10-15","2018-10-23","2018-10-31","2018-11-07","2018-11-15","2018-11-23","2018-11-30"],
    "labelExpr": "toNumber(substring(datum.value, 8, 10)) % 14 <= 3 ? utcFormat(toDate(datum.value), '%b %d') : ''",
    "labelAngle": 0, "labelOverlap": false, "labelColor": "#d8d8d8", "labelFontSize": 7, "labelPadding": -2,
    "tickSize": 3, "tickColor": "#aaaaaa",
    "tickOpacity": {"condition": {"test": "toNumber(substring(datum.value, 8, 10)) % 14 <= 3", "value": 0}, "value": 1},
    "grid": true, "gridColor": "#5a5a5a", "gridDash": [1, 2],
    "gridOpacity": {"condition": {"test": "toNumber(substring(datum.value, 8, 10)) % 14 <= 3", "value": 1}, "value": 0},
    "domain": false, "title": "2018", "titleFontSize": 7, "titleFontWeight": "normal", "titleColor": "#d8d8d8", "titlePadding": 0, "bandPosition": 0.5}},
  "y": {"field": "p", "type": "quantitative"},
  "y2": {"datum": 0},
  "color": {"datum": "S&P 500 Index - Price Change 1 Day Percent -3.24", "scale": {"range": ["#33cc33"]},
   "legend": {"title": null, "orient": "top-left", "offset": 0, "padding": 3, "fillColor": "#000000",
    "labelFontSize": 7, "labelColor": "#dcdcdc", "labelLimit": 400, "labelOffset": 3,
    "symbolType": "square", "symbolSize": 30, "symbolStrokeWidth": 0}}
 }},
{"transform": [{"filter": "datum.p < 0"}],
 "mark": {"type": "bar", "color": "#f01010"},
 "encoding": {"x": {"field": "d", "type": "ordinal"}, "y": {"field": "p", "type": "quantitative"}, "y2": {"datum": 0}}},
{"data": {"values": [{}]}, "mark": {"type": "rule", "color": "#8a8a8a", "strokeWidth": 1},
 "encoding": {"y": {"datum": -4.76, "type": "quantitative"}}},
{"data": {"name": "circ"},
 "mark": {"type": "point", "shape": "M-1,0A1,0.75 0 1,0 1,0A1,0.75 0 1,0 -1,0Z", "size": 784, "filled": false, "fill": "#e04a30", "fillOpacity": 0.6, "stroke": "#ff3d1f", "strokeWidth": 1.5, "opacity": 1},
 "encoding": {"x": {"field": "d", "type": "ordinal"}, "y": {"field": "v", "type": "quantitative"}}},
{"data": {"values": [{"v": -3.24}]},
 "mark": {"type": "point", "shape": "M-1,0L-0.8,-0.3L1,-0.3L1,0.3L-0.8,0.3Z", "size": 900, "filled": true, "opacity": 1, "strokeWidth": 0, "color": "#33cc33", "xOffset": 26.3},
 "encoding": {"x": {"datum": "2018-12-04", "type": "ordinal"}, "y": {"field": "v", "type": "quantitative"}}},
{"data": {"values": [{"v": -3.24, "t": "-3.24"}]},
 "mark": {"type": "text", "fontSize": 7, "color": "#000000", "align": "center", "baseline": "middle", "xOffset": 27.5},
 "encoding": {"x": {"datum": "2018-12-04", "type": "ordinal"}, "y": {"field": "v", "type": "quantitative"}, "text": {"field": "t"}}}
]
}
]
}
